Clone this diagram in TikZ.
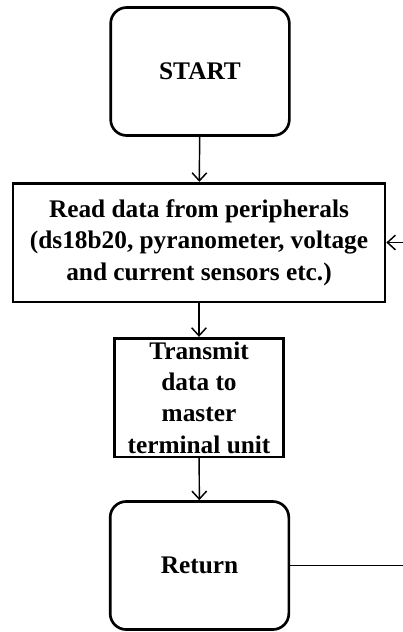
\documentclass[tikz,border=0pt]{standalone}
\usepackage{fontspec}
\setmainfont{Liberation Serif}
\usetikzlibrary{arrows.meta}
\tikzset{
  base/.style={draw, line width=2pt, inner sep=0pt, align=center,
    font=\fontsize{19pt}{23.5pt}\selectfont\bfseries},
  term/.style={base, rounded corners=12pt},
  proc/.style={base},
  conn/.style={line width=1.1pt, -{Straight Barb[length=6pt,width=11pt,line width=1.1pt]}}
}
\begin{document}
\begin{tikzpicture}[x=0.75pt,y=-0.75pt]
\useasboundingbox (0,0) rectangle (403,632);
\clip (0,0) rectangle (403,632);
\node[term, minimum width=134pt, minimum height=96pt] (start) at (200,71.5) {START};
\node[proc, minimum width=279pt, minimum height=89pt] (read) at (199,242.5)
  {Read data from peripherals\\(ds18b20, pyranometer, voltage\\and current sensors etc.)};
\node[proc, minimum width=127pt, minimum height=89pt] (tx) at (199,397.5)
  {Transmit\\data to\\master\\terminal unit};
\node[term, minimum width=134pt, minimum height=96pt] (ret) at (199.5,565.5) {Return};
\coordinate (loopc) at (420,565.5);
\draw[conn] (start) -- (read);
\draw[conn] (read) -- (tx);
\draw[conn] (tx) -- (ret);
\draw[conn] (ret.east) -- (loopc) |- (read.east);
\end{tikzpicture}
\end{document}
